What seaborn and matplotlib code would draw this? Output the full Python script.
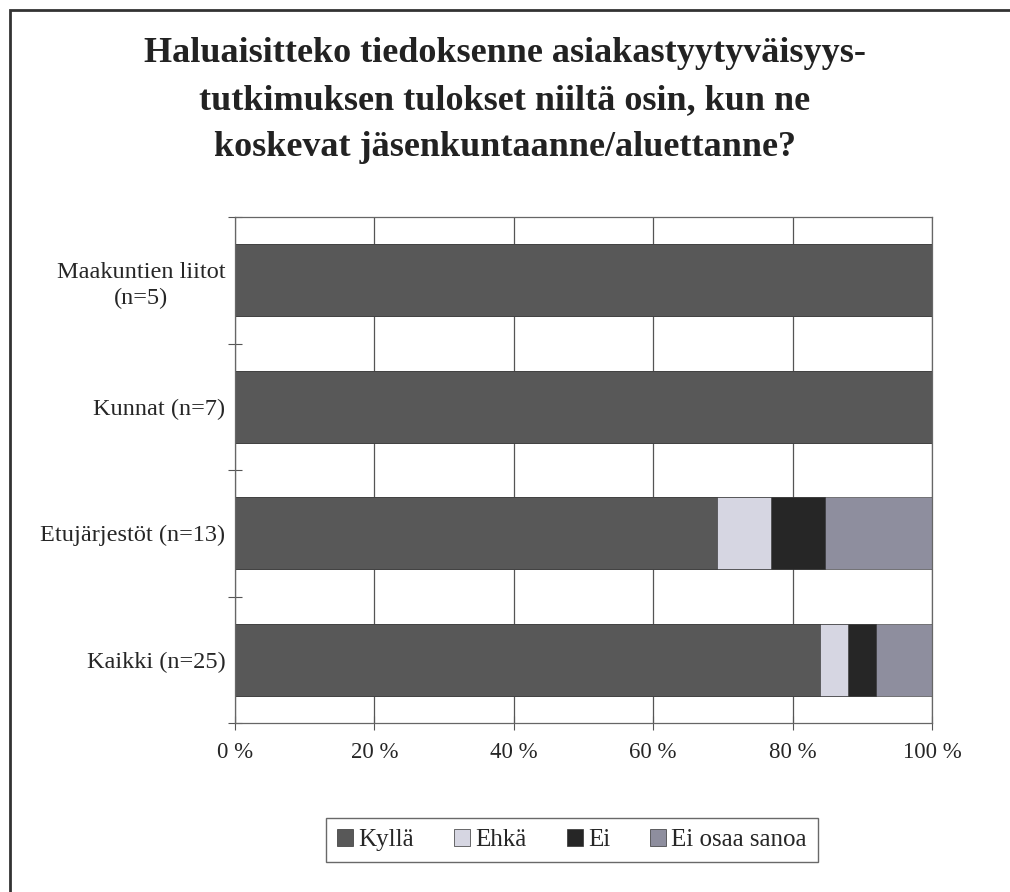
import numpy as np
import pandas as pd
import matplotlib
matplotlib.use("Agg")
import matplotlib.pyplot as plt
import matplotlib.patches as mpatches
from matplotlib.ticker import FixedLocator
import seaborn as sns

# Data (percent of respondents)
groups = ["Maakuntien liitot\n(n=5)", "Kunnat (n=7)", "Etujärjestöt (n=13)", "Kaikki (n=25)"]
answers = ["Kyllä", "Ehkä", "Ei", "Ei osaa sanoa"]
kylla = [100, 100, 69.2, 84]
ehka = [0, 0, 7.7, 4]
ei = [0, 0, 7.7, 4]
eos = [0, 0, 15.4, 8]
colors = ["#585858", "#d6d6e2", "#262626", "#8e8e9e"]

sns.set_theme(style="white")
plt.rcParams["font.family"] = ["Liberation Serif", "DejaVu Serif"]

df = pd.DataFrame({"group": groups, "Kyllä": kylla, "Ehkä": ehka,
                   "Ei": ei, "Ei osaa sanoa": eos})
cum = df[answers].cumsum(axis=1)

fig = plt.figure(figsize=(10.1, 8.92), dpi=100)
ax = fig.add_axes([235 / 1010, 1 - 723 / 892, 697 / 1010, 506 / 892])

# stacked bars: draw the longest cumulative first
for name, col in zip(answers[::-1], colors[::-1]):
    sns.barplot(x=cum[name], y=df["group"], orient="h", color=col,
                width=0.57, edgecolor="#333333", linewidth=0.4, ax=ax,
                saturation=1)

ax.set_xlim(0, 100)
ax.set_ylim(3.5, -0.5)
ax.set_xticks(np.arange(0, 101, 20))
ax.set_xticklabels([f"{v} %" for v in range(0, 101, 20)], fontsize=16.5)
ax.set_yticks(range(len(groups)))
ax.set_yticklabels(groups, fontsize=17.5, multialignment="center", linespacing=1.35)
ax.yaxis.set_minor_locator(FixedLocator([-0.5, 0.5, 1.5, 2.5, 3.5]))
ax.tick_params(axis="y", which="major", length=0, pad=7)
ax.tick_params(axis="y", which="minor", length=10, direction="inout",
               width=0.8, color="#555555", left=True)
ax.tick_params(axis="x", which="major", length=10, direction="inout",
               width=0.8, color="#555555", bottom=True, pad=9)
ax.set_xlabel("")
ax.set_ylabel("")
ax.grid(axis="x", color="#555555", linewidth=0.9)
ax.set_axisbelow(True)
for s in ax.spines.values():
    s.set_color("#666666")
    s.set_linewidth(0.9)
    s.set_visible(True)

handles = [mpatches.Patch(facecolor=c, edgecolor="#333333", linewidth=0.5, label=a)
           for a, c in zip(answers, colors)]
leg = fig.legend(handles=handles, loc="center", ncol=4,
                 bbox_to_anchor=(572 / 1010, 1 - 840 / 892), fontsize=18,
                 frameon=True, fancybox=False, handlelength=0.65, handleheight=0.65,
                 handletextpad=0.2, columnspacing=1.6, borderpad=0.45)
leg.get_frame().set_edgecolor("#444444")
leg.get_frame().set_linewidth(1)

fig.text(505 / 1010, 1 - 101 / 892,
         "Haluaisitteko tiedoksenne asiakastyytyväisyys-\n"
         "tutkimuksen tulokset niiltä osin, kun ne\n"
         "koskevat jäsenkuntaanne/aluettanne?",
         ha="center", va="center", fontsize=26, fontweight="bold",
         linespacing=1.56, color="#222222")

# outer frame (cut off at right and bottom like the scan)
fig.patches.append(mpatches.Rectangle((10 / 1010, -0.1), 1.2, 1.1 - 10 / 892,
                                      transform=fig.transFigure, fill=False,
                                      edgecolor="#333333", linewidth=2))

fig.savefig("out.png", dpi=100)
